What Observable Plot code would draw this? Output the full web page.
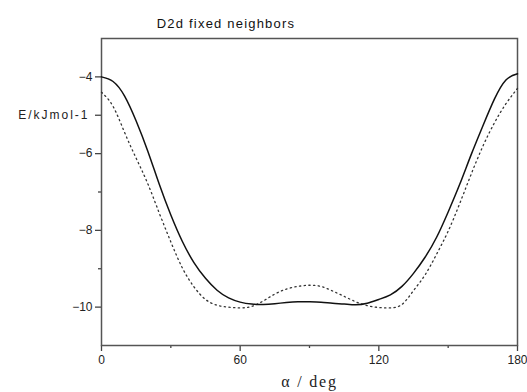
<!DOCTYPE html>
<html>
<head>
<meta charset="utf-8">
<script src="https://cdn.jsdelivr.net/npm/d3@7"></script>
<script src="https://cdn.jsdelivr.net/npm/@observablehq/plot@0.6"></script>
<style>
  html, body { margin: 0; padding: 0; background: #fff; }
  #title {
    width: 452px; height: 30px; box-sizing: border-box; padding-top: 18px;
    text-align: center; font: 13px "Liberation Sans", Arial, sans-serif;
    line-height: 12px; letter-spacing: 1.2px; color: #111; overflow: visible;
  }
</style>
</head>
<body>
<div id="title">D2d fixed neighbors</div>
<div id="chart"></div>
<script>
const titleText = "D2d fixed neighbors";
const yLabelText = "E/kJmol-1";
const xLabelText = "α / deg";

const angles = [0,5,10,15,20,25,30,35,40,45,50,55,60,65,70,75,80,85,90,95,100,105,110,115,120,125,130,135,140,145,150,155,160,165,170,175,180];
const solidE = [-4.00,-4.12,-4.50,-5.15,-5.93,-6.80,-7.60,-8.29,-8.84,-9.25,-9.56,-9.76,-9.87,-9.92,-9.93,-9.91,-9.88,-9.86,-9.86,-9.87,-9.90,-9.92,-9.94,-9.90,-9.80,-9.68,-9.46,-9.12,-8.70,-8.18,-7.52,-6.80,-6.02,-5.28,-4.58,-4.08,-3.92];
const dottedE = [-4.40,-4.77,-5.45,-6.12,-6.78,-7.55,-8.30,-8.98,-9.47,-9.80,-9.95,-10.00,-10.02,-9.98,-9.84,-9.66,-9.53,-9.46,-9.43,-9.46,-9.58,-9.72,-9.86,-9.96,-10.01,-10.02,-9.93,-9.57,-9.16,-8.62,-8.02,-7.30,-6.53,-5.81,-5.20,-4.70,-4.30];

const yMajor = [-4, -6, -8, -10];
const yLabelTick = [-5];
const yMinor = [-7, -9];
const xMajor = [0, 60, 120, 180];
const xMinor = [30, 90, 150];

const solid = angles.map((a, i) => ({a, e: solidE[i]}));
const dotted = angles.map((a, i) => ({a, e: dottedE[i]}));
const fmt = d => String(d).replace("-", "\u2212");

const plot = Plot.plot({
  width: 527,
  height: 362,
  marginTop: 8,
  marginLeft: 101,
  marginRight: 10,
  marginBottom: 47,
  style: {fontFamily: "'Liberation Sans', Arial, sans-serif", fontSize: "12px", color: "#222", background: "#fff"},
  x: {domain: [0, 180], label: null},
  y: {domain: [-11, -3], label: null},
  marks: [
    Plot.axisY({ticks: yMajor, tickSize: 6, tickPadding: 3, tickFormat: fmt, stroke: "#444", strokeWidth: 1.3, label: null}),
    Plot.axisY({ticks: yLabelTick, tickSize: 6, tickFormat: () => "", stroke: "#444", strokeWidth: 1.3, label: null}),
    Plot.axisY({ticks: yMinor, tickSize: 3, tickFormat: () => "", stroke: "#444", strokeWidth: 1.3, label: null}),
    Plot.text(yLabelTick, {y: d => d, frameAnchor: "left", dx: -12, textAnchor: "end", text: () => yLabelText, fontSize: 12, fill: "#222"}),
    Plot.axisX({ticks: xMajor, tickSize: 6, tickPadding: 4, tickFormat: fmt, stroke: "#444", strokeWidth: 1.3, label: null}),
    Plot.axisX({ticks: xMinor, tickSize: 3, tickFormat: () => "", stroke: "#444", strokeWidth: 1.3, label: null}),
    Plot.text([xLabelText], {frameAnchor: "bottom", dy: 41, text: d => d, fontSize: 16, fontFamily: "'Liberation Serif', 'Times New Roman', serif", fill: "#222"}),
    Plot.frame({stroke: "#555", strokeWidth: 1.5}),
    Plot.line(dotted, {x: "a", y: "e", curve: "natural", stroke: "#333", strokeWidth: 1.3, strokeDasharray: "1.3,3.4"}),
    Plot.line(solid, {x: "a", y: "e", curve: "natural", stroke: "#111", strokeWidth: 1.5})
  ]
});
plot.querySelectorAll("text").forEach(t => {
  if (t.textContent === yLabelText) t.setAttribute("letter-spacing", "2");
  if (t.textContent === xLabelText) t.setAttribute("letter-spacing", "1.8");
});
document.getElementById("chart").appendChild(plot);
</script>
</body>
</html>
